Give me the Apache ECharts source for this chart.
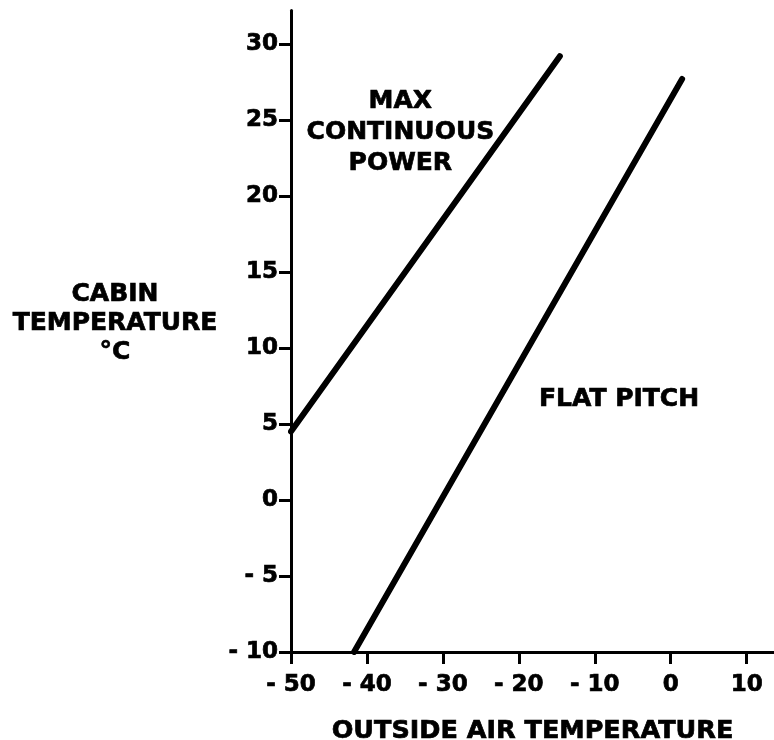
<!DOCTYPE html>
<html>
<head>
<meta charset="utf-8">
<script src="https://cdn.jsdelivr.net/npm/echarts@6/dist/echarts.min.js"></script>
<style>
html,body{margin:0;padding:0;background:#fff;}
#chart{width:774px;height:740px;}
</style>
</head>
<body>
<div id="chart"></div>
<script>
// ---- data ----
const xTicks = [-50, -40, -30, -20, -10, 0, 10];
const yTicks = [-10, -5, 0, 5, 10, 15, 20, 25, 30];
const maxContinuousPower = [[-50, 4.5], [-14.6, 29.2]];
const flatPitch = [[-41.7, -10], [1.5, 27.7]];
const annotations = [
  { name: 'MAX\nCONTINUOUS\nPOWER', value: [-35.6, 24.2] },
  { name: 'FLAT PITCH', value: [-6.8, 6.6] }
];
const xTitle = 'OUTSIDE AIR TEMPERATURE';
const yTitle = 'CABIN\nTEMPERATURE\n°C';

const FONT = '"DejaVu Sans", "Liberation Sans", Arial, sans-serif';
const fmt = v => (v < 0 ? '- ' + Math.abs(v) : String(v));
const heavy = { textBorderColor: '#000', textBorderWidth: 0.7 };

const chart = echarts.init(document.getElementById('chart'), null, { renderer: 'canvas' });
chart.setOption({
  backgroundColor: '#ffffff',
  animation: false,
  grid: { left: 291, right: 0, top: 10.6, bottom: 88, containLabel: false, outerBoundsMode: 'none' },
  xAxis: {
    type: 'value',
    min: -50, max: 13.6, interval: 10,
    splitLine: { show: false },
    axisLine: { show: true, onZero: false, lineStyle: { color: '#000', width: 3 } },
    axisTick: { show: true, length: 12, lineStyle: { color: '#000', width: 3 }, customValues: xTicks },
    axisLabel: Object.assign({
      customValues: xTicks, formatter: fmt, margin: 22,
      color: '#000', fontFamily: FONT, fontWeight: 'bold', fontSize: 23
    }, heavy),
    name: xTitle, nameLocation: 'middle', nameGap: 66,
    nameTextStyle: Object.assign({ color: '#000', fontFamily: FONT, fontWeight: 'bold', fontSize: 25.5 }, heavy)
  },
  yAxis: {
    type: 'value',
    min: -10, max: 32.2, interval: 5,
    splitLine: { show: false },
    axisLine: { show: true, onZero: false, lineStyle: { color: '#000', width: 3 } },
    axisTick: { show: true, length: 12, lineStyle: { color: '#000', width: 3 }, customValues: yTicks },
    axisLabel: Object.assign({
      customValues: yTicks, formatter: fmt, margin: 13,
      color: '#000', fontFamily: FONT, fontWeight: 'bold', fontSize: 23
    }, heavy)
  },
  graphic: [{
    type: 'text',
    x: 115, y: 323,
    style: Object.assign({
      text: yTitle, x: 0, y: 0,
      textAlign: 'center', textVerticalAlign: 'middle',
      fill: '#000', font: 'bold 25px ' + FONT, lineHeight: 29,
      stroke: '#000', lineWidth: 0.7
    })
  }],
  series: [
    {
      type: 'line', data: maxContinuousPower, symbol: 'none', silent: true,
      lineStyle: { color: '#000', width: 6, cap: 'round' }
    },
    {
      type: 'line', data: flatPitch, symbol: 'none', silent: true,
      lineStyle: { color: '#000', width: 6, cap: 'round' }
    },
    {
      type: 'scatter', data: annotations, symbolSize: 0, silent: true,
      itemStyle: { opacity: 1 },
      label: Object.assign({
        show: true, position: 'inside', formatter: p => p.name, opacity: 1,
        color: '#000', fontFamily: FONT, fontWeight: 'bold', fontSize: 25,
        lineHeight: 31, align: 'center', verticalAlign: 'middle'
      }, heavy)
    }
  ]
});
</script>
</body>
</html>
